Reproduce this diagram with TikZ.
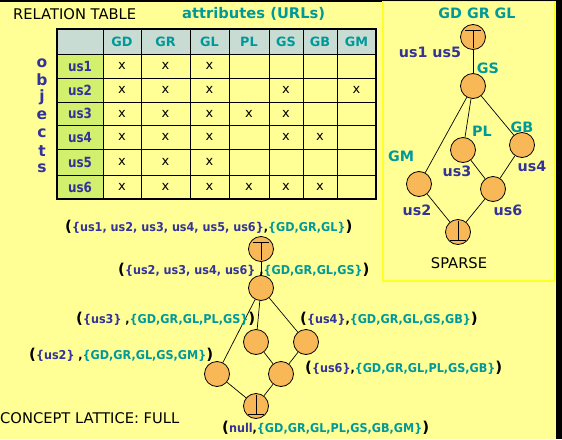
\documentclass[tikz,border=0pt]{standalone}
\usepackage{fontspec}
\setmainfont{DejaVu Sans}
\newfontfamily\fA{DejaVu Sans}
\newfontfamily\fB{DejaVu Sans}[FakeStretch=0.92]
\newfontfamily\fC{DejaVu Sans}[FakeStretch=0.85]
\definecolor{bgc}{RGB}{255,255,150}
\definecolor{tealc}{RGB}{0,153,153}
\definecolor{purp}{RGB}{51,51,153}
\definecolor{hdr}{RGB}{200,220,212}
\definecolor{gcol}{RGB}{210,240,110}
\definecolor{nodeor}{RGB}{248,184,88}
\definecolor{sbox}{RGB}{255,255,40}
\newcommand\flab[3]{{\fA\bfseries\fontsize{15}{15}\selectfont(}{\fB\bfseries\fontsize{12.2}{14}\selectfont\textcolor{purp}{#1}#2\textcolor{tealc}{#3}}{\fA\bfseries\fontsize{15}{15}\selectfont)}}
\begin{document}
\begin{tikzpicture}[x=1pt,y=-1pt,
  lat/.style={circle,draw=black,line width=0.8pt,fill=nodeor,minimum size=25pt,inner sep=0pt},
  edg/.style={line width=0.7pt},
  txt/.style={inner sep=0pt},
  plain/.style={txt,font=\fA\fontsize{14.7}{16}\selectfont},
  hd/.style={txt,text=tealc,font=\fA\bfseries\fontsize{12.8}{14}\selectfont},
  rl/.style={txt,text=purp,font=\fC\bfseries\fontsize{14}{16}\selectfont},
  objl/.style={txt,text=purp,font=\fA\bfseries\fontsize{15.5}{16}\selectfont},
  xm/.style={txt,font=\fA\fontsize{13}{14}\selectfont},
  sl/.style={txt,font=\fA\bfseries\fontsize{14.3}{16}\selectfont},
  sp/.style={sl,text=purp},
  st/.style={sl,text=tealc}]
\useasboundingbox (0,0) rectangle (562,439);
\fill[bgc] (0,0) rectangle (562,439);
\fill[black] (0,0) rectangle (562,2);
\fill[black] (556,0) rectangle (562,439);
% sparse box
\draw[sbox,line width=1.5pt] (383,1.5) rectangle (555,281);
% titles
\node[plain,anchor=west] (title) at (13,14) {RELATION TABLE};
\node[txt,anchor=west,text=tealc,font=\fA\bfseries\fontsize{14.7}{16}\selectfont] (attr) at (182,14) {attributes (URLs)};
% table
\fill[hdr] (57,29) rectangle (376,54);
\fill[gcol] (57,54) rectangle (103,199);
\foreach \x in {103,141,190,229,269,303,337} \draw[line width=0.7pt] (\x,29) -- (\x,199);
\foreach \y in {54,78,102,125,149,175} \draw[line width=0.7pt] (57,\y) -- (376,\y);
\draw[line width=1.5pt] (57,29) rectangle (376,199);
\foreach \a/\x in {GD/122,GR/165.5,GL/209.5,PL/249,GS/286,GB/320,GM/356.5}
  \node[hd] (h\a) at (\x,41.5) {\a};
\foreach \r/\y in {1/66,2/90,3/113.5,4/137,5/162,6/187}
  \node[rl] (r\r) at (80,\y) {us\r};
\foreach \r/\y/\cl in {1/66/{1,2,3},2/90/{1,2,3,5,7},3/113.5/{1,2,3,4,5},4/137/{1,2,3,5,6},5/162/{1,2,3},6/187/{1,2,3,4,5,6}}
  \foreach \c in \cl {
    \pgfmathsetmacro{\xx}{{122,165.5,209.5,249,286,320,356.5}[\c-1]}
    \node[xm] (x\r\c) at (\xx,\y) {x};
  }
\foreach \l/\y in {o/63,b/80,j/97,e/115,c/133,t/151,s/168}
  \node[objl] (obj\l) at (42,\y) {\l};
% sparse lattice
\node[lat] (sT) at (473,37) {};
\node[lat] (sGS) at (473,86) {};
\node[lat] (sPL) at (463,150) {};
\node[lat] (sGB) at (522,145) {};
\node[lat] (sGM) at (419,184) {};
\node[lat] (s6) at (493,189) {};
\node[lat] (sB) at (458,232) {};
\draw[edg] (sT) -- (sGS);
\draw[edg] (sGS) -- (sGM);
\draw[edg] (sGS) -- (sPL);
\draw[edg] (sGS) -- (sGB);
\draw[edg] (sPL) -- (s6);
\draw[edg] (sGB) -- (s6);
\draw[edg] (sGM) -- (sB);
\draw[edg] (s6) -- (sB);
\draw[edg] ([shift={(-8,-7)}]sT.center) -- ([shift={(8,-7)}]sT.center);
\draw[edg] ([shift={(0,-7)}]sT.center) -- ([shift={(0,11)}]sT.center);
\draw[edg] ([shift={(-8,8)}]sB.center) -- ([shift={(8,8)}]sB.center);
\draw[edg] ([shift={(0,8)}]sB.center) -- ([shift={(0,-11)}]sB.center);
\node[st] (sltop) at (477,13) {GD GR GL};
\node[sp] (sl15) at (430,52) {us1 us5};
\node[st] (slGS) at (488,68) {GS};
\node[st] (slPL) at (482,131) {PL};
\node[sp] (sl3) at (457,171) {us3};
\node[st] (slGB) at (522,127) {GB};
\node[sp] (sl4) at (532,166) {us4};
\node[st] (slGM) at (401,156) {GM};
\node[sp] (sl2) at (417,210) {us2};
\node[sp] (sl6) at (508,210) {us6};
\node[plain] (sparse) at (459,263) {SPARSE};
% full lattice
\node[lat] (fT) at (261,249) {};
\node[lat] (f2) at (261,288) {};
\node[lat] (f3) at (256,342) {};
\node[lat] (f4) at (306,342) {};
\node[lat] (fU2) at (217,374) {};
\node[lat] (f6) at (281,374) {};
\node[lat] (fB) at (256,406) {};
\draw[edg] (fT) -- (f2);
\draw[edg] (f2) -- (fU2);
\draw[edg] (f2) -- (f3);
\draw[edg] (f2) -- (f4);
\draw[edg] (f3) -- (f6);
\draw[edg] (f4) -- (f6);
\draw[edg] (fU2) -- (fB);
\draw[edg] (f6) -- (fB);
\draw[edg] ([shift={(-8,-7)}]fT.center) -- ([shift={(8,-7)}]fT.center);
\draw[edg] ([shift={(0,-7)}]fT.center) -- ([shift={(0,11)}]fT.center);
\draw[edg] ([shift={(-8,8)}]fB.center) -- ([shift={(8,8)}]fB.center);
\draw[edg] ([shift={(0,8)}]fB.center) -- ([shift={(0,-11)}]fB.center);
\node[txt,anchor=west] (L1) at (65,227) {\flab{\{us1, us2, us3, us4, us5, us6\}}{,}{\{GD,GR,GL\}}};
\node[txt,anchor=west] (L2) at (118,270) {\flab{\{us2, us3, us4, us6\}}{ ,}{\{GD,GR,GL,GS\}}};
\node[txt,anchor=west] (L3) at (76,319) {\flab{\{us3\}}{ ,}{\{GD,GR,GL,PL,GS\}}};
\node[txt,anchor=west] (L4) at (300,319) {\flab{\{us4\}}{,}{\{GD,GR,GL,GS,GB\}}};
\node[txt,anchor=west] (L5) at (29,355) {\flab{\{us2\}}{ ,}{\{GD,GR,GL,GS,GM\}}};
\node[txt,anchor=west] (L6) at (305,368) {\flab{\{us6\}}{,}{\{GD,GR,GL,PL,GS,GB\}}};
\node[txt,anchor=west] (L7) at (222,428) {\flab{null}{,}{\{GD,GR,GL,PL,GS,GB,GM\}}};
\node[plain,anchor=west] (concept) at (0,418) {CONCEPT LATTICE: FULL};
\end{tikzpicture}
\end{document}
